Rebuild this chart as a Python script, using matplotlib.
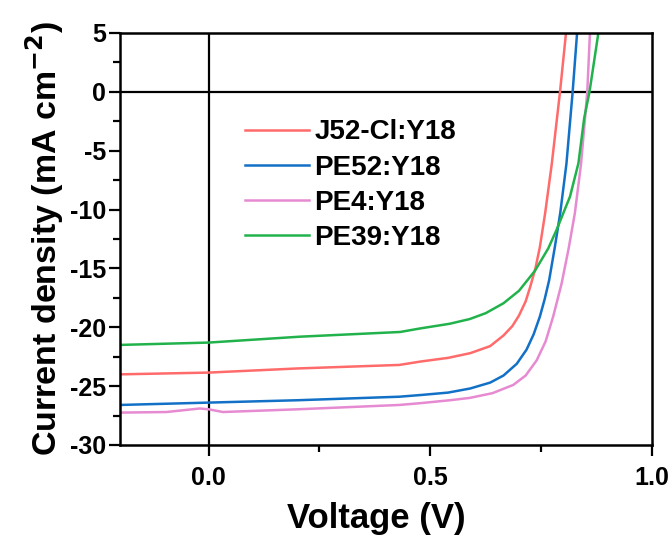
import matplotlib
matplotlib.use('Agg')
import matplotlib.pyplot as plt
from matplotlib.ticker import MultipleLocator

plt.rcParams['font.family'] = ['Liberation Sans', 'DejaVu Sans']
plt.rcParams['font.weight'] = 'bold'
plt.rcParams['axes.unicode_minus'] = False

# J-V curves (V in volts, J in mA cm-2)
v_j52 = [-0.2, 0.0, 0.2, 0.43, 0.48, 0.54, 0.59, 0.635, 0.665, 0.685, 0.70, 0.715, 0.725, 0.737, 0.747, 0.759, 0.774, 0.7925, 0.806]
j_j52 = [-24.0, -23.85, -23.5, -23.2, -22.9, -22.6, -22.2, -21.6, -20.7, -19.9, -19.0, -17.8, -16.6, -15.0, -13.2, -10.3, -6.1, 0.0, 5.0]

v_pe52 = [-0.2, 0.0, 0.2, 0.43, 0.48, 0.54, 0.59, 0.635, 0.665, 0.695, 0.717, 0.733, 0.747, 0.758, 0.768, 0.781, 0.793, 0.807, 0.821, 0.831]
j_pe52 = [-26.6, -26.4, -26.2, -25.9, -25.75, -25.55, -25.2, -24.7, -24.1, -23.1, -21.9, -20.6, -19.1, -17.6, -16.0, -13.15, -10.3, -6.1, 0.0, 5.0]

v_pe4 = [-0.2, -0.095, -0.02, 0.0, 0.032, 0.2, 0.43, 0.477, 0.544, 0.589, 0.64, 0.687, 0.715, 0.74, 0.76, 0.777, 0.796, 0.812, 0.826, 0.840, 0.854, 0.860]
j_pe4 = [-27.25, -27.2, -26.9, -26.97, -27.2, -26.97, -26.6, -26.45, -26.2, -26.0, -25.6, -24.9, -24.1, -22.8, -21.2, -19.1, -16.3, -13.3, -10.3, -6.1, 0.0, 5.0]

v_pe39 = [-0.2, 0.0, 0.206, 0.432, 0.477, 0.544, 0.589, 0.625, 0.665, 0.70, 0.736, 0.766, 0.785, 0.815, 0.834, 0.847, 0.859, 0.879]
j_pe39 = [-21.5, -21.3, -20.8, -20.4, -20.1, -19.7, -19.3, -18.8, -17.96, -16.9, -15.2, -13.3, -11.7, -8.9, -6.07, -2.24, 0.0, 5.0]

labels = ['J52-Cl:Y18', 'PE52:Y18', 'PE4:Y18', 'PE39:Y18']
colors = ['#ff6b6b', '#1271c6', '#e68ad2', '#22b24c']

fig = plt.figure(figsize=(6.71, 5.38), dpi=100)
ax = fig.add_axes([0.1788, 0.1729, 0.7929, 0.7658])

for v, j, lab, c in zip([v_j52, v_pe52, v_pe4, v_pe39],
                        [j_j52, j_pe52, j_pe4, j_pe39], labels, colors):
    ax.plot(v, j, color=c, lw=1.8, label=lab)

# zero lines
ax.axhline(0, color='black', lw=1.6, zorder=1)
ax.axvline(0, color='black', lw=1.6, zorder=1)

ax.set_xlim(-0.2, 1.0)
ax.set_ylim(-30, 5)
ax.xaxis.set_major_locator(MultipleLocator(0.5))
ax.xaxis.set_minor_locator(MultipleLocator(0.25))
ax.yaxis.set_major_locator(MultipleLocator(5))
ax.yaxis.set_minor_locator(MultipleLocator(2.5))
ax.tick_params(which='major', direction='out', length=8, width=1.6, labelsize=18)
ax.tick_params(axis='x', which='major', pad=7)
ax.tick_params(axis='y', which='major', pad=2)
ax.tick_params(which='minor', direction='out', length=5, width=1.6)
for s in ax.spines.values():
    s.set_linewidth(1.8)

ax.set_xlabel('Voltage (V)', fontsize=25, fontweight='bold')
ax.xaxis.set_label_coords(0.482, -0.138, transform=ax.transAxes)
ax.xaxis.label.set_va('top')
ax.set_ylabel('Current density (mA cm$^{\\mathbf{-2}}$)', fontsize=24.5, fontweight='bold', labelpad=3)

ax.legend(loc='upper left', bbox_to_anchor=(0.235, 0.79), frameon=False,
          fontsize=20, handlelength=2.3, handletextpad=0.2, labelspacing=0.33,
          borderpad=0, borderaxespad=0)

fig.savefig('out.png', dpi=100)
